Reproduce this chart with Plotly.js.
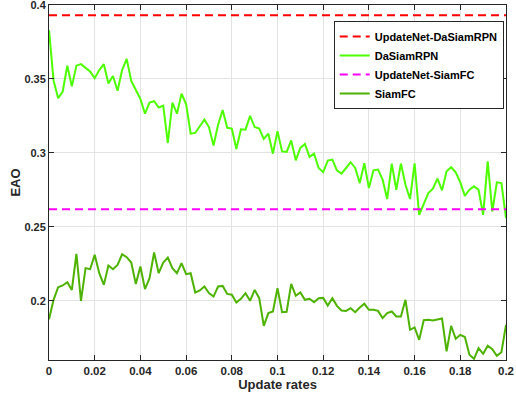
<!DOCTYPE html>
<html>
<head>
<meta charset="utf-8">
<script src="https://cdn.plot.ly/plotly-3.0.1.min.js"></script>
<style>html,body{margin:0;padding:0;background:#fff;}#chart{width:516px;height:393px;}</style>
</head>
<body>
<div id="chart"></div>
<script>
// Update rates 0 .. 0.2 step 0.002 (101 points)
var updateRates = [];
for (var i = 0; i <= 100; i++) updateRates.push(+(i * 0.002).toFixed(3));

var daSiamRPN = [
0.383,0.349,0.337,0.3415,0.359,0.345,0.359,0.360,0.3575,0.355,
0.3505,0.356,0.360,0.347,0.352,0.342,0.356,0.3635,0.3487,0.342,
0.3365,0.3265,0.334,0.335,0.3307,0.332,0.3067,0.334,0.3265,0.340,
0.333,0.313,0.3135,0.318,0.3225,0.3175,0.305,0.319,0.329,0.317,
0.3165,0.3027,0.316,0.3157,0.325,0.3175,0.3165,0.3094,0.313,0.2995,
0.3147,0.301,0.3007,0.3084,0.295,0.3034,0.306,0.2973,0.2995,0.2898,
0.287,0.2948,0.2955,0.2882,0.286,0.2898,0.2937,0.2898,0.2796,0.293,
0.2762,0.2882,0.2887,0.2819,0.2688,0.2928,0.2751,0.2928,0.2785,0.2688,
0.293,0.2581,0.266,0.2729,0.2758,0.2826,0.2747,0.2876,0.2903,0.2869,
0.2801,0.271,0.2751,0.2774,0.2751,0.2581,0.2943,0.2604,0.2801,0.2796,
0.2559];

var siamFC = [
0.1876,0.2007,0.2092,0.2104,0.2126,0.2074,0.2318,0.2000,0.2221,0.2214,
0.2311,0.2187,0.2108,0.2239,0.2214,0.2243,0.2315,0.2295,0.2259,0.2113,
0.2232,0.2079,0.2153,0.2327,0.2187,0.2259,0.2293,0.2221,0.2187,0.2255,
0.2180,0.2187,0.2056,0.2070,0.2097,0.2052,0.2029,0.2097,0.2101,0.2047,
0.2041,0.1989,0.2014,0.2052,0.2000,0.2074,0.2018,0.1831,0.1917,0.1928,
0.2086,0.1923,0.1926,0.2115,0.2034,0.2056,0.2007,0.2014,0.1991,0.2018,
0.2020,0.1968,0.2018,0.1966,0.1935,0.1932,0.1950,0.1923,0.1955,0.1980,
0.1939,0.1939,0.1932,0.1883,0.1917,0.1928,0.1894,0.1894,0.2007,0.1804,
0.1820,0.1736,0.1869,0.1872,0.1867,0.1876,0.1881,0.1658,0.1831,0.1743,
0.1770,0.1755,0.1635,0.1608,0.1680,0.1642,0.1696,0.1673,0.1628,0.1653,
0.1838];

var refX = [0, 0.2];
var updateNetDaSiamRPN = [0.393, 0.393];
var updateNetSiamFC = [0.262, 0.262];

var xTickVals = [0, 0.02, 0.04, 0.06, 0.08, 0.1, 0.12, 0.14, 0.16, 0.18, 0.2];
var xTickText = ['0', '0.02', '0.04', '0.06', '0.08', '0.1', '0.12', '0.14', '0.16', '0.18', '0.2'];
var yTickVals = [0.2, 0.25, 0.3, 0.35, 0.4];
var yTickText = ['0.2', '0.25', '0.3', '0.35', '0.4'];

var traces = [
  {x: refX, y: updateNetDaSiamRPN, name: 'UpdateNet-DaSiamRPN', mode: 'lines',
   line: {color: '#ff0000', width: 2, dash: '8px,5px'}},
  {x: updateRates, y: daSiamRPN, name: 'DaSiamRPN', mode: 'lines',
   line: {color: '#4dff00', width: 2}},
  {x: refX, y: updateNetSiamFC, name: 'UpdateNet-SiamFC', mode: 'lines',
   line: {color: '#ff00ff', width: 2, dash: '8px,5px'}},
  {x: updateRates, y: siamFC, name: 'SiamFC', mode: 'lines',
   line: {color: '#4db300', width: 2}}
];

var fontFam = 'Liberation Sans, Arial, Helvetica, sans-serif';
var layout = {
  width: 516, height: 393,
  margin: {l: 49, r: 10, t: 5, b: 33, autoexpand: false},
  paper_bgcolor: '#fff', plot_bgcolor: '#fff',
  font: {family: fontFam, size: 11, color: '#262626', weight: 'bold'},
  showlegend: true,
  legend: {
    x: 0.995, y: 0.955, xanchor: 'right', yanchor: 'top',
    bgcolor: '#fff', bordercolor: '#262626', borderwidth: 1,
    font: {family: fontFam, size: 11, color: '#000', weight: 'bold'},
    itemwidth: 30, tracegroupgap: 0
  },
  xaxis: {
    range: [0, 0.2], tickmode: 'array', tickvals: xTickVals, ticktext: xTickText,
    showgrid: true, gridcolor: '#e3e3e3', gridwidth: 1,
    zeroline: false, showline: true, linecolor: '#262626', linewidth: 1, mirror: 'allticks',
    ticks: 'inside', ticklen: 5, tickcolor: '#262626', ticklabeloverflow: 'allow',
    tickfont: {family: fontFam, size: 11.5, color: '#262626', weight: 'bold'},
    automargin: true,
    title: {text: 'Update rates', standoff: 2, font: {family: fontFam, size: 13, color: '#262626', weight: 'bold'}}
  },
  yaxis: {
    range: [0.16, 0.4], tickmode: 'array', tickvals: yTickVals, ticktext: yTickText,
    showgrid: true, gridcolor: '#e3e3e3', gridwidth: 1,
    zeroline: false, showline: true, linecolor: '#262626', linewidth: 1, mirror: 'allticks',
    ticks: 'inside', ticklen: 5, tickcolor: '#262626', ticklabeloverflow: 'allow',
    tickfont: {family: fontFam, size: 11, color: '#262626', weight: 'bold'},
    automargin: true,
    title: {text: 'EAO', standoff: 0, font: {family: fontFam, size: 13, color: '#262626', weight: 'bold'}}
  }
};

Plotly.newPlot('chart', traces, layout, {displayModeBar: false, staticPlot: true});
</script>
</body>
</html>
